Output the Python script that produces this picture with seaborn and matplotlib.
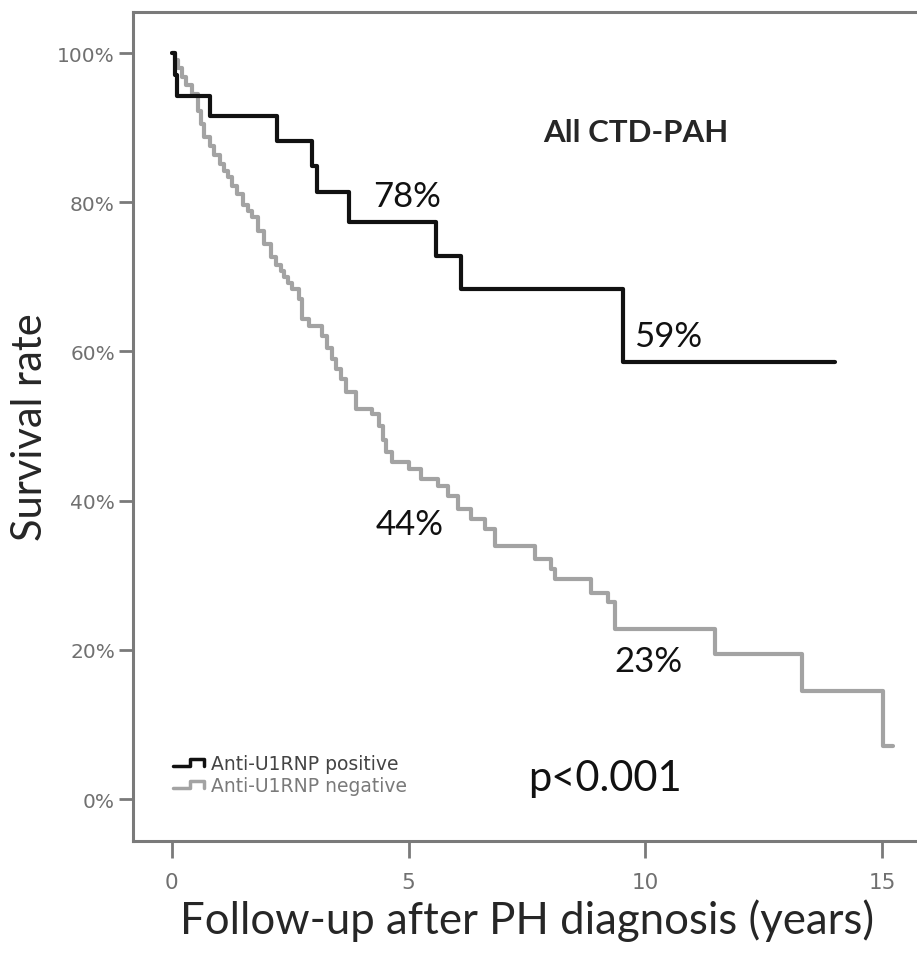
import matplotlib
matplotlib.use("Agg")
import matplotlib.pyplot as plt
import numpy as np
import pandas as pd
import seaborn as sns
from matplotlib.legend_handler import HandlerBase
from matplotlib.lines import Line2D

# Kaplan-Meier step curves (years, survival %)
pos_time = [0.0, 0.06, 0.12, 0.80, 2.23, 2.96, 3.07, 3.74, 5.57, 6.11, 9.52, 14.0]
pos_surv = [100.0, 97.1, 94.3, 91.6, 88.2, 84.9, 81.4, 77.3, 72.8, 68.4, 58.6, 58.6]

neg_time = [0.0, 0.06, 0.14, 0.22, 0.30, 0.42, 0.55, 0.62, 0.69, 0.80, 0.90, 1.01,
            1.10, 1.18, 1.28, 1.37, 1.50, 1.60, 1.70, 1.82, 1.95, 2.10, 2.20,
            2.31, 2.37, 2.45, 2.54, 2.69, 2.75, 2.90, 3.17, 3.28, 3.38, 3.47,
            3.57, 3.68, 3.89, 4.22, 4.37, 4.45, 4.52, 4.64, 5.00, 5.27, 5.63,
            5.84, 6.05, 6.32, 6.62, 6.83, 7.58, 7.67, 8.00, 8.09, 8.78, 8.84,
            9.20, 9.35, 11.47, 13.30, 15.02, 15.23]
neg_surv = [100.0, 99.0, 98.0, 96.8, 95.7, 94.5, 92.2, 90.5, 88.7, 87.5, 86.3, 85.1,
            84.2, 83.4, 82.2, 81.1, 79.6, 78.8, 78.0, 76.2, 74.4, 72.6, 71.6,
            70.8, 70.0, 69.2, 68.4, 67.0, 64.3, 63.4, 62.1, 60.5, 59.0, 57.7,
            56.3, 54.6, 52.3, 51.6, 50.0, 48.2, 46.5, 45.2, 44.2, 42.9, 42.0,
            40.6, 38.9, 37.5, 36.2, 33.9, 33.9, 32.2, 30.8, 29.5, 29.5, 27.7,
            26.4, 22.8, 19.4, 14.5, 7.1, 7.1]

group_labels = ["Anti-U1RNP positive", "Anti-U1RNP negative"]
group_colors = ["#111111", "#a3a3a3"]

y_ticks = [0, 20, 40, 60, 80, 100]
y_ticklabels = ["0%", "20%", "40%", "60%", "80%", "100%"]
x_ticks = [0, 5, 10, 15]

# annotations: (text, x, y)
notes = [("78%", 4.96, 80.8), ("59%", 10.48, 62.1), ("44%", 5.02, 36.9),
         ("23%", 10.06, 18.5)]
p_text = ("p<0.001", 9.14, 2.9)


class StepHandler(HandlerBase):
    def create_artists(self, legend, orig_handle, xdescent, ydescent,
                       width, height, fontsize, trans):
        xs = np.array([0.0, 0.45, 0.45, 0.85, 0.85]) * width - xdescent
        ys = np.array([0.25, 0.25, 0.75, 0.75, 0.25]) * height - ydescent
        ln = Line2D(xs, ys, color=orig_handle.get_color(),
                    linewidth=orig_handle.get_linewidth(), transform=trans)
        return [ln]


sns.set_style("white")
plt.rcParams["font.family"] = ["Lato", "DejaVu Sans"]

fig = plt.figure(figsize=(9.17, 9.54), dpi=100)
ax = fig.add_axes([0.145, 0.1174, 0.86, 0.869])

df_pos = pd.DataFrame({"time": pos_time, "surv": pos_surv})
df_neg = pd.DataFrame({"time": neg_time, "surv": neg_surv})

sns.lineplot(data=df_neg, x="time", y="surv", ax=ax, color=group_colors[1],
             linewidth=3.0, drawstyle="steps-post", estimator=None, sort=False)
sns.lineplot(data=df_pos, x="time", y="surv", ax=ax, color=group_colors[0],
             linewidth=3.0, drawstyle="steps-post", estimator=None, sort=False)

ax.set_xlim(-0.82, 15.83)
ax.set_ylim(-5.6, 105.5)

for side in ["left", "top", "bottom"]:
    ax.spines[side].set_color("#7a7a7a")
    ax.spines[side].set_linewidth(2.2)
ax.spines["right"].set_visible(False)

ax.set_yticks(y_ticks)
ax.set_yticklabels(y_ticklabels, family="DejaVu Sans", fontsize=14.5, color="#707070")
ax.set_xticks(x_ticks)
ax.set_xticklabels([str(t) for t in x_ticks], family="DejaVu Sans", fontsize=15.5,
                   color="#707070")
ax.tick_params(axis="y", length=10, width=2, color="#7a7a7a", pad=3, left=True)
ax.tick_params(axis="x", length=12, width=2, color="#7a7a7a", pad=10, bottom=True)

ax.set_ylabel("Survival rate", fontsize=30, labelpad=6)
ax.set_xlabel("Follow-up after PH diagnosis (years)", fontsize=31.5, labelpad=5)

ax.text(9.79, 89.4, "All CTD-PAH", fontsize=22.5, fontweight="bold",
        ha="center", va="center")
for txt, x, y in notes:
    ax.text(x, y, txt, fontsize=25, ha="center", va="center", color="#111111")
ax.text(p_text[1], p_text[2], p_text[0], fontsize=30, ha="center", va="center",
        color="#111111")

handles = [Line2D([], [], color=c, linewidth=2.5) for c in group_colors]
leg = ax.legend(handles, group_labels, loc="lower left",
                bbox_to_anchor=(0.03, 0.035), frameon=False,
                handler_map={Line2D: StepHandler()},
                prop={"family": "DejaVu Sans", "size": 13.5},
                handlelength=1.9, handletextpad=0.1, labelspacing=0.15)
leg.get_texts()[0].set_color("#444444")
leg.get_texts()[1].set_color("#7a7a7a")

plt.savefig("out.png", dpi=100)
